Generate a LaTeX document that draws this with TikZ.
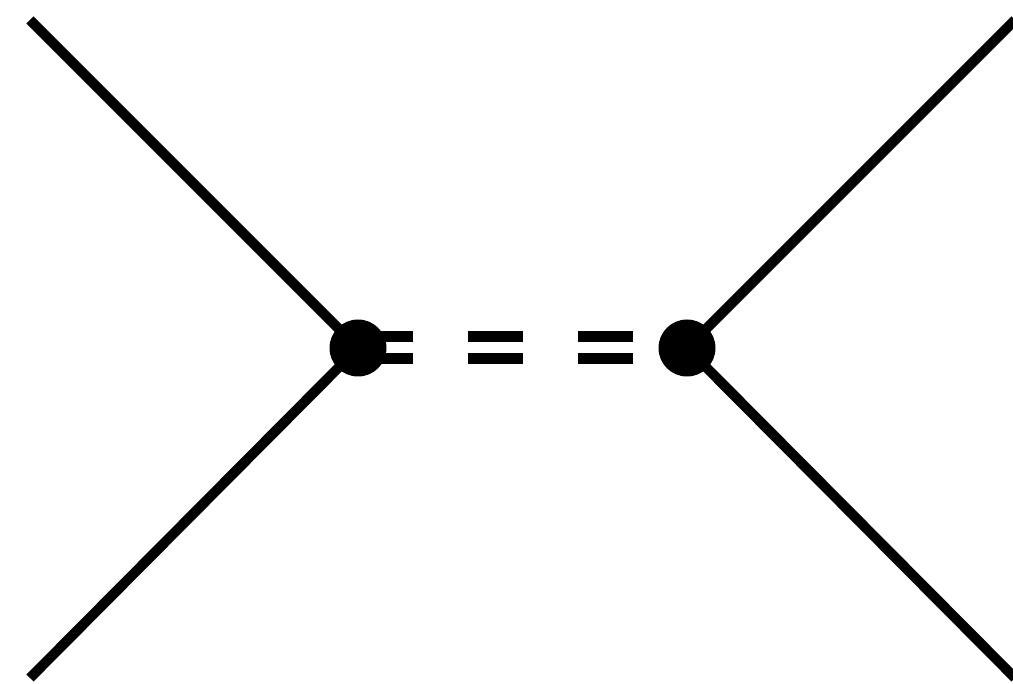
\documentclass[tikz,border=0pt]{standalone}
\usepackage{tikz}
\usetikzlibrary{backgrounds}

\begin{document}
\begin{tikzpicture}[x=1pt,y=-1pt]
\tikzstyle{vertex}=[circle,fill=black,inner sep=0pt,minimum size=57pt]
\tikzstyle{leg}=[line width=10pt]
\tikzstyle{prop}=[line width=11pt,double,double distance=11pt,dash pattern=on 55pt off 55pt]
\useasboundingbox (0,0) rectangle (1013,684);
\node[vertex] (vl) at (358,348) {};
\node[vertex] (vr) at (687,348) {};
\coordinate (a) at (30,20);
\coordinate (b) at (30,678);
\coordinate (c) at (1015,20);
\coordinate (d) at (1015,678);
\begin{scope}[on background layer]
\draw[leg] (a) -- (vl.center);
\draw[leg] (b) -- (vl.center);
\draw[leg] (vr.center) -- (c);
\draw[leg] (vr.center) -- (d);
\draw[prop] (vl.center) -- (vr.center);
\end{scope}
\end{tikzpicture}
\end{document}
